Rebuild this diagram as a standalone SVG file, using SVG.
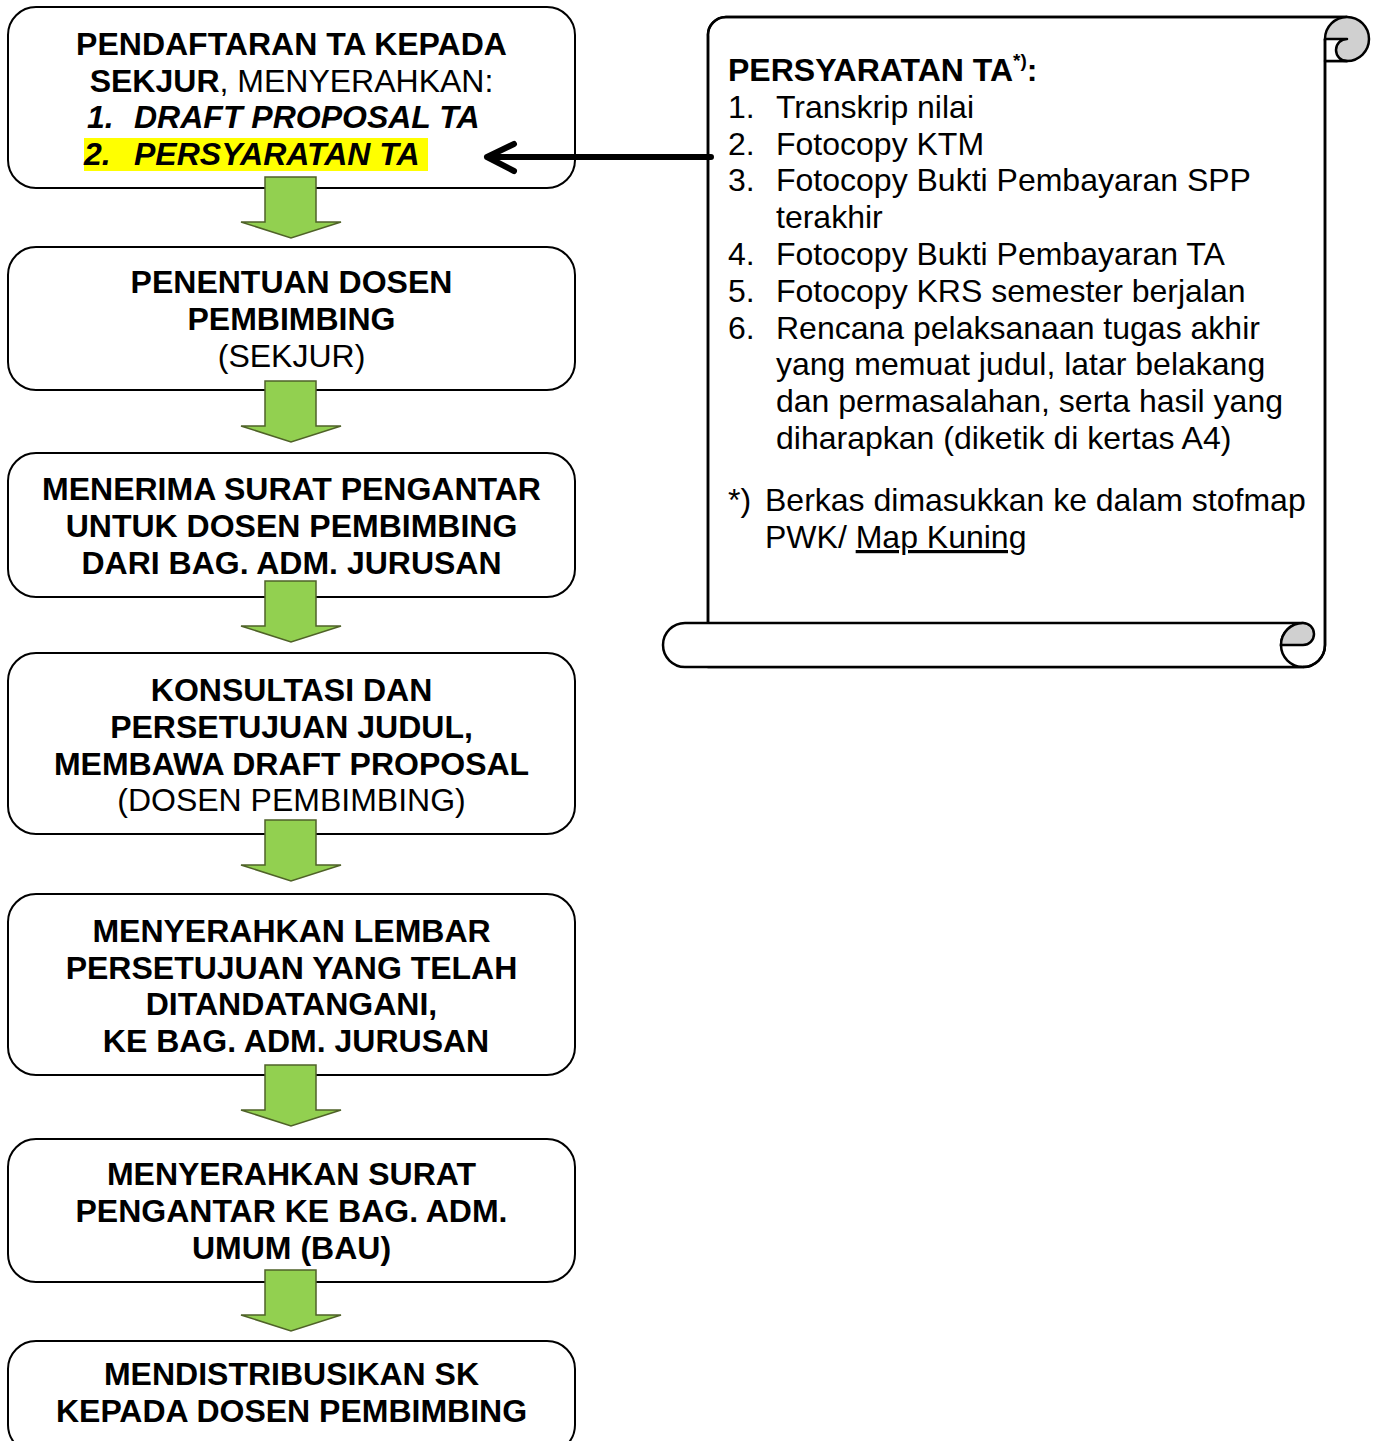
<svg xmlns="http://www.w3.org/2000/svg" width="1377" height="1441" viewBox="0 0 1377 1441">
<style>
.box{fill:#fff;stroke:#000;stroke-width:2}
.t{font-family:"Liberation Sans",Arial,sans-serif;font-size:32px;fill:#000}
.b{font-weight:bold}
.c{text-anchor:middle}
.ga{fill:#92D050;stroke:#4F6228;stroke-width:1.5;stroke-linejoin:miter}
.sc{fill:#fff;stroke:#000;stroke-width:2.5;stroke-linejoin:round}
.gr{fill:#D0D0D0;stroke:#000;stroke-width:2.5}
</style>
<defs>
<path id="garrow" d="M-26,0 H25 V45 H50 L0,61 L-50,45 H-26 Z"/>
</defs>

<g id="n1">
<rect class="box" x="8" y="7" width="567" height="181" rx="28"/>
<rect x="84" y="138" width="344" height="33" fill="#FFFF00"/>
<text class="t b c" x="291.5" y="55">PENDAFTARAN TA KEPADA</text>
<text class="t c" x="291.5" y="92"><tspan class="b">SEKJUR</tspan>, MENYERAHKAN:</text>
<text class="t b" x="87" y="128" font-style="italic">1.</text>
<text class="t b" x="134" y="128" font-style="italic">DRAFT PROPOSAL TA</text>
<text class="t b" x="84" y="165" font-style="italic">2.</text>
<text class="t b" x="134" y="165" font-style="italic">PERSYARATAN TA</text>
</g>

<g id="n2">
<rect class="box" x="8" y="247" width="567" height="143" rx="28"/>
<text class="t b c" x="291.5" y="293">PENENTUAN DOSEN</text>
<text class="t b c" x="291.5" y="330">PEMBIMBING</text>
<text class="t c" x="291.5" y="367">(SEKJUR)</text>
</g>

<g id="n3">
<rect class="box" x="8" y="453" width="567" height="144" rx="28"/>
<text class="t b c" x="291.5" y="500">MENERIMA SURAT PENGANTAR</text>
<text class="t b c" x="291.5" y="537">UNTUK DOSEN PEMBIMBING</text>
<text class="t b c" x="291.5" y="574">DARI BAG. ADM. JURUSAN</text>
</g>

<g id="n4">
<rect class="box" x="8" y="653" width="567" height="181" rx="28"/>
<text class="t b c" x="291.5" y="701">KONSULTASI DAN</text>
<text class="t b c" x="291.5" y="738">PERSETUJUAN JUDUL,</text>
<text class="t b c" x="291.5" y="775">MEMBAWA DRAFT PROPOSAL</text>
<text class="t c" x="291.5" y="811">(DOSEN PEMBIMBING)</text>
</g>

<g id="n5">
<rect class="box" x="8" y="894" width="567" height="181" rx="28"/>
<text class="t b c" x="291.5" y="942">MENYERAHKAN LEMBAR</text>
<text class="t b c" x="291.5" y="979">PERSETUJUAN YANG TELAH</text>
<text class="t b c" x="291.5" y="1015">DITANDATANGANI,</text>
<text class="t b c" x="296" y="1052">KE BAG. ADM. JURUSAN</text>
</g>

<g id="n6">
<rect class="box" x="8" y="1139" width="567" height="143" rx="28"/>
<text class="t b c" x="291.5" y="1185">MENYERAHKAN SURAT</text>
<text class="t b c" x="291.5" y="1222">PENGANTAR KE BAG. ADM.</text>
<text class="t b c" x="291.5" y="1259">UMUM (BAU)</text>
</g>

<g id="n7">
<rect class="box" x="8" y="1341" width="567" height="112" rx="28"/>
<text class="t b c" x="291.5" y="1385">MENDISTRIBUSIKAN SK</text>
<text class="t b c" x="291.5" y="1422">KEPADA DOSEN PEMBIMBING</text>
</g>

<g id="scroll">
<path class="sc" d="M708,623 V36 A18,18 0 0 1 726,17 H1347 V61 H1325 V645 A22,22 0 0 1 1303,667 H708 Z" stroke="none"/>
<path d="M708,623 V36 A18,18 0 0 1 726,17 H1347" fill="none" stroke="#000" stroke-width="2.5"/>
<circle class="gr" cx="1347" cy="39" r="22"/>
<path class="sc" d="M1325,39 H1347 A11,11 0 0 0 1347,61 H1325 Z"/>
<path d="M1325,39 V645 A22,22 0 0 1 1303,667" fill="none" stroke="#000" stroke-width="2.5"/>
<path class="sc" d="M1303,623 H685 A22,22 0 0 0 685,667 H1303 A22,22 0 0 1 1303,623 Z"/>
<path class="gr" d="M1303,623 A22,22 0 0 0 1281,645 H1303 A11,11 0 0 0 1303,623 Z"/>
<text class="t b" x="728" y="81">PERSYARATAN TA<tspan font-size="19" dy="-14">*)</tspan><tspan dy="14">:</tspan></text>
<text class="t" x="728" y="118">1.</text><text class="t" x="776" y="118">Transkrip nilai</text>
<text class="t" x="728" y="155">2.</text><text class="t" x="776" y="155">Fotocopy KTM</text>
<text class="t" x="728" y="191">3.</text><text class="t" x="776" y="191">Fotocopy Bukti Pembayaran SPP</text>
<text class="t" x="776" y="228">terakhir</text>
<text class="t" x="728" y="265">4.</text><text class="t" x="776" y="265">Fotocopy Bukti Pembayaran TA</text>
<text class="t" x="728" y="302">5.</text><text class="t" x="776" y="302">Fotocopy KRS semester berjalan</text>
<text class="t" x="728" y="339">6.</text><text class="t" x="776" y="339">Rencana pelaksanaan tugas akhir</text>
<text class="t" x="776" y="375">yang memuat judul, latar belakang</text>
<text class="t" x="776" y="412">dan permasalahan, serta hasil yang</text>
<text class="t" x="776" y="449">diharapkan (diketik di kertas A4)</text>
<text class="t" x="728" y="511">*)</text><text class="t" x="765" y="511">Berkas dimasukkan ke dalam stofmap</text>
<text class="t" x="765" y="548">PWK/ <tspan text-decoration="underline">Map Kuning</tspan></text>
</g>

<g id="connectors">
<use href="#garrow" class="ga" x="291" y="177"/>
<use href="#garrow" class="ga" x="291" y="381"/>
<use href="#garrow" class="ga" x="291" y="581"/>
<use href="#garrow" class="ga" x="291" y="820"/>
<use href="#garrow" class="ga" x="291" y="1065"/>
<use href="#garrow" class="ga" x="291" y="1270"/>
<path d="M711,157 H487 M514,144 L487,157 L514,171" fill="none" stroke="#000" stroke-width="6" stroke-linecap="round" stroke-linejoin="round"/>
</g>
</svg>
